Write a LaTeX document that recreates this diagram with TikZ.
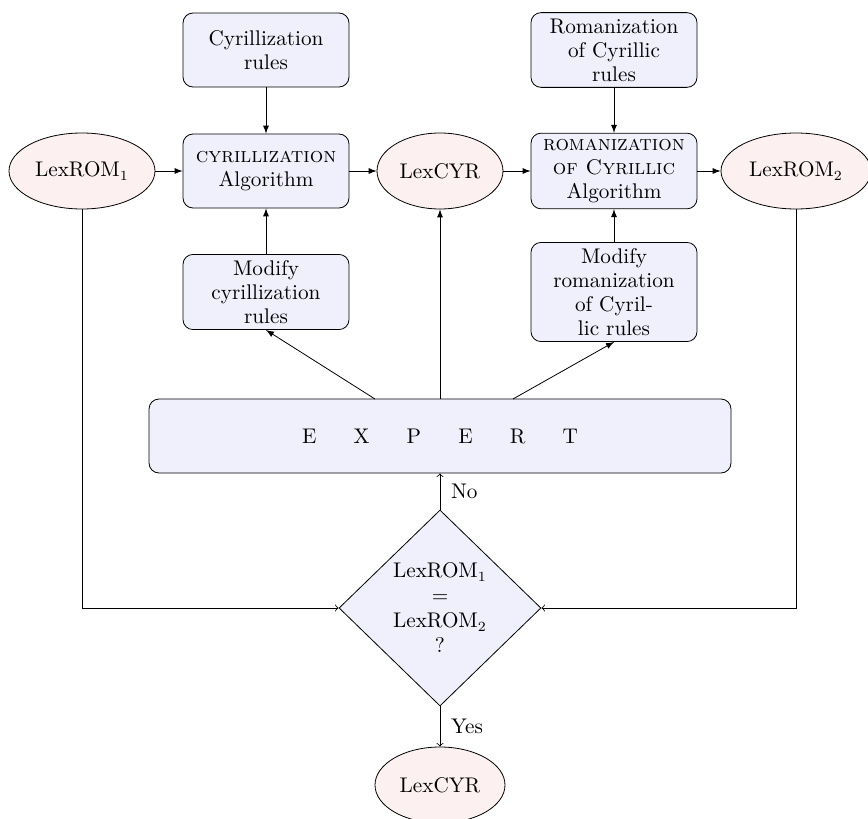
\documentclass[tikz,border=0pt]{standalone}
\usetikzlibrary{shapes.geometric,arrows}
\definecolor{boxfill}{RGB}{240,240,252}
\definecolor{ellfill}{RGB}{252,240,240}
\begin{document}
\begin{tikzpicture}[x=0.5pt,y=-0.5pt,
  procbox/.style={draw, rounded corners=5pt, fill=boxfill, align=center,
    minimum width=83pt, minimum height=37pt, inner sep=3pt},
  lexell/.style={draw, ellipse, fill=ellfill, inner sep=0pt, minimum height=38pt},
  farrow/.style={-latex},
  oarrow/.style={-to},
  every node/.style={font=\fontsize{10.6}{12}\selectfont}
]
\useasboundingbox (0,0) rectangle (868,819);

\node[lexell, minimum width=73pt] (rom1) at (82,171) {LexROM$_1$};
\node[procbox] (cyrrules) at (266,50) {Cyrillization\\rules};
\node[procbox] (cyralg) at (266,171) {\textsc{cyrillization}\\Algorithm};
\node[lexell, minimum width=63pt] (cyr) at (440,171) {LexCYR};
\node[procbox] (romrules) at (614,50) {Romanization\\of Cyrillic\\rules};
\node[procbox] (romalg) at (614,171) {\textsc{romanization}\\\textsc{of Cyrillic}\\Algorithm};
\node[lexell, minimum width=75pt] (rom2) at (796,171) {LexROM$_2$};
\node[procbox] (modcyr) at (266,292) {Modify\\cyrillization\\rules};
\node[procbox] (modrom) at (614,292) {Modify\\romanization\\of Cyril-\\lic rules};
\node[procbox, minimum width=291pt, minimum height=37pt] (expert) at (440,436)
  {E\hspace{1.75em}X\hspace{1.75em}P\hspace{1.75em}E\hspace{1.75em}R\hspace{1.75em}T};
\node[draw, diamond, fill=boxfill, align=center, inner sep=0pt,
  minimum width=101pt, minimum height=98pt,
  font=\fontsize{10.6}{12.5}\selectfont] (test) at (440,608)
  {LexROM$_1$\\=\\LexROM$_2$\\?};
\node[lexell, minimum width=65pt] (cyrout) at (440,785) {LexCYR};

\coordinate (e1) at (375,399);
\coordinate (e3) at (513,399);

\draw[farrow] (rom1) -- (cyralg);
\draw[farrow] (cyralg) -- (cyr);
\draw[farrow] (cyr) -- (romalg);
\draw[farrow] (romalg) -- (rom2);
\draw[farrow] (cyrrules) -- (cyralg);
\draw[farrow] (romrules) -- (romalg);
\draw[farrow] (modcyr) -- (cyralg);
\draw[farrow] (modrom) -- (romalg);
\draw[farrow] (e1) -- (modcyr.south);
\draw[farrow] (expert.north) -- (cyr.south);
\draw[farrow] (e3) -- (modrom.south);
\draw[oarrow] (test.north) -- node[right, xshift=2pt] {No} (expert.south);
\draw[oarrow] (test.south) -- node[right, xshift=2pt] {Yes} (cyrout.north);
\draw[oarrow] (rom1.south) |- (test.west);
\draw[oarrow] (rom2.south) |- (test.east);
\end{tikzpicture}
\end{document}
